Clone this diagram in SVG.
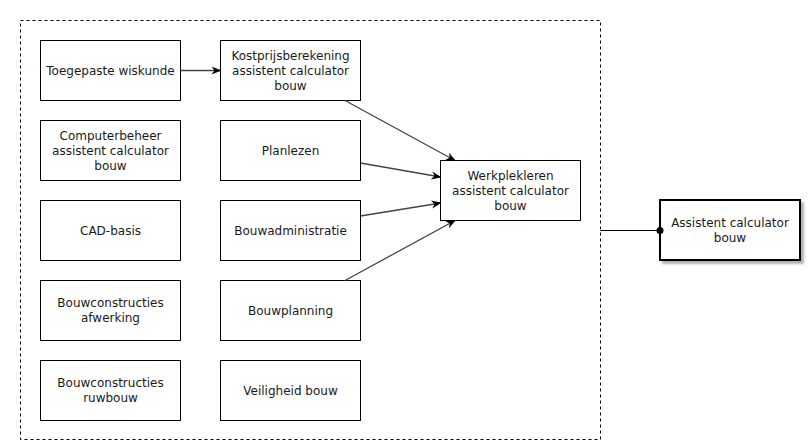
<svg xmlns="http://www.w3.org/2000/svg" width="808" height="445" viewBox="0 0 808 445">
<defs>
<marker id="arr" viewBox="0 0 10 10" refX="9" refY="5" markerWidth="10" markerHeight="10" markerUnits="userSpaceOnUse" orient="auto">
<path d="M0,1 L10,5 L0,9 L3,5 Z" fill="#000"/>
</marker>
<filter id="sh" x="-10%" y="-10%" width="130%" height="130%">
<feOffset dx="3" dy="3" in="SourceAlpha"/>
<feGaussianBlur stdDeviation="1"/>
<feComponentTransfer><feFuncA type="linear" slope="0.3"/></feComponentTransfer>
<feMerge><feMergeNode/><feMergeNode in="SourceGraphic"/></feMerge>
</filter>
</defs>
<style>
.box{fill:#fff;stroke:#000;stroke-width:1}
.t{font-family:"DejaVu Sans",Verdana,sans-serif;font-size:12px;fill:#1a1a1a;text-anchor:middle}
.c{fill:none;stroke:#444;stroke-width:1.3}
</style>
<rect width="808" height="445" fill="#fff"/>
<g id="container"><rect x="20.5" y="20.5" width="580" height="419" fill="none" stroke="#000" stroke-dasharray="3 3"/></g>
<g id="n1"><rect class="box" x="40.5" y="40.5" width="140" height="60"/><text class="t" x="110.5" y="75">Toegepaste wiskunde</text></g>
<g id="n2"><rect class="box" x="40.5" y="120.5" width="140" height="60"/><text class="t" x="110.5" y="140">Computerbeheer</text><text class="t" x="110.5" y="155">assistent calculator</text><text class="t" x="110.5" y="170">bouw</text></g>
<g id="n3"><rect class="box" x="40.5" y="200.5" width="140" height="60"/><text class="t" x="110.5" y="235">CAD-basis</text></g>
<g id="n4"><rect class="box" x="40.5" y="280.5" width="140" height="60"/><text class="t" x="110.5" y="307">Bouwconstructies</text><text class="t" x="110.5" y="322">afwerking</text></g>
<g id="n5"><rect class="box" x="40.5" y="360.5" width="140" height="60"/><text class="t" x="110.5" y="387">Bouwconstructies</text><text class="t" x="110.5" y="402">ruwbouw</text></g>
<g id="n6"><rect class="box" x="220.5" y="40.5" width="140" height="60"/><text class="t" x="290.5" y="60">Kostprijsberekening</text><text class="t" x="290.5" y="75">assistent calculator</text><text class="t" x="290.5" y="90">bouw</text></g>
<g id="n7"><rect class="box" x="220.5" y="120.5" width="140" height="60"/><text class="t" x="290.5" y="155">Planlezen</text></g>
<g id="n8"><rect class="box" x="220.5" y="200.5" width="140" height="60"/><text class="t" x="290.5" y="235">Bouwadministratie</text></g>
<g id="n9"><rect class="box" x="220.5" y="280.5" width="140" height="60"/><text class="t" x="290.5" y="315">Bouwplanning</text></g>
<g id="n10"><rect class="box" x="220.5" y="360.5" width="140" height="60"/><text class="t" x="290.5" y="395">Veiligheid bouw</text></g>
<g id="n11"><rect class="box" x="440.5" y="160.5" width="140" height="60"/><text class="t" x="510.5" y="180">Werkplekleren</text><text class="t" x="510.5" y="195">assistent calculator</text><text class="t" x="510.5" y="210">bouw</text></g>
<g id="n12"><rect x="660" y="200" width="140" height="60" fill="#fff" stroke="#000" stroke-width="2" filter="url(#sh)"/><text class="t" x="730" y="227">Assistent calculator</text><text class="t" x="730" y="242">bouw</text></g>
<g id="connectors">
<path class="c" d="M180.5 70.5 L220.5 70.5" stroke="#000" marker-end="url(#arr)"/>
<path class="c" d="M345 100.5 L455 160.5" marker-end="url(#arr)"/>
<path class="c" d="M360.5 163 L440.5 177" marker-end="url(#arr)"/>
<path class="c" d="M360.5 216 L440.5 203" marker-end="url(#arr)"/>
<path class="c" d="M345 280.5 L455 220.5" marker-end="url(#arr)"/>
<path d="M600.5 230.5 L660 230.5" stroke="#000" stroke-width="1"/>
<circle cx="660" cy="230.5" r="3.5" fill="#000"/>
</g>
</svg>
